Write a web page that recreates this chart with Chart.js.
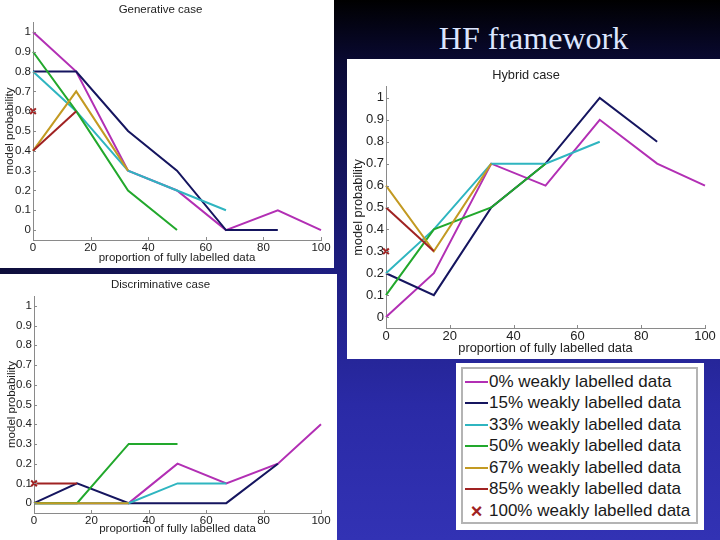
<!DOCTYPE html>
<html>
<head>
<meta charset="utf-8">
<title>HF framework</title>
<script src="https://cdn.jsdelivr.net/npm/chart.js@4.4.1/dist/chart.umd.min.js"></script>
<style>
    html, body { margin: 0; padding: 0; }
    body {
        width: 720px; height: 540px; position: relative; overflow: hidden;
        background:
            linear-gradient(90deg, rgba(0,0,0,0.55) 0%, rgba(0,0,0,0) 45%),
            linear-gradient(180deg, #000 0%, #0a0a35 12%, #1b1b78 45%, #2a2aa6 75%, #3232b4 100%);
    }
    .panel { position: absolute; background: #fff; }
    .panel canvas { display: block; }
    #slideTitle {
        position: absolute; left: 347px; width: 373px; top: 20px;
        text-align: center; line-height: 32px; color: #dce6ff;
        font: 32px "Liberation Serif", "Times New Roman", serif;
    }
    #legendBox { position: absolute; left: 456px; top: 363px; width: 248px; height: 167px; background: #fff; }
    #legendInner {
        position: absolute; left: 5px; top: 4px; width: 237px; height: 157px;
        border: 2px solid #b4b4b4; box-sizing: border-box; padding-top: 2px;
    }
    .row {
        display: flex; align-items: center; height: 21.5px; white-space: nowrap;
        font: 17px "Liberation Sans", Arial, sans-serif; color: #1a1a1a;
    }
    .sample { width: 23px; margin-left: 2px; margin-right: 1px; height: 0; border-top: 2.5px solid; }
    .marker { width: 23px; margin-left: 2px; margin-right: 1px; text-align: center; font-weight: bold; font-size: 20px; line-height: 20px; }
</style>
</head>
<body>
<div id="slideTitle">HF framework</div>
<div class="panel" style="left:0;top:0;"><canvas id="generativeChart" width="334" height="268"></canvas></div>
<div class="panel" style="left:0;top:274px;"><canvas id="discriminativeChart" width="337" height="266"></canvas></div>
<div class="panel" style="left:347px;top:59px;"><canvas id="hybridChart" width="373" height="300"></canvas></div>
<div id="legendBox"><div id="legendInner"></div></div>

<script>
// proportion of fully labelled data (%)
var xValues = [0, 15, 33, 50, 67, 85, 100];
var xTicks = [0, 20, 40, 60, 80, 100];
var yTicks = [0, 0.1, 0.2, 0.3, 0.4, 0.5, 0.6, 0.7, 0.8, 0.9, 1];
var yTickLabels = ['0', '0.1', '0.2', '0.3', '0.4', '0.5', '0.6', '0.7', '0.8', '0.9', '1'];

var seriesLabels = [
    '0% weakly labelled data',
    '15% weakly labelled data',
    '33% weakly labelled data',
    '50% weakly labelled data',
    '67% weakly labelled data',
    '85% weakly labelled data',
    '100% weakly labelled data'
];

// model probability, one row per series; rows stop where the series stops
var generativeValues = [
    [1, 0.8, 0.3, 0.2, 0, 0.1, 0],
    [0.8, 0.8, 0.5, 0.3, 0, 0],
    [0.8, 0.6, 0.3, 0.2, 0.1],
    [0.9, 0.6, 0.2, 0],
    [0.4, 0.7, 0.3],
    [0.4, 0.6],
    [0.6]
];
var discriminativeValues = [
    [0, 0, 0, 0.2, 0.1, 0.2, 0.4],
    [0, 0.1, 0, 0, 0, 0.2],
    [0, 0, 0, 0.1, 0.1],
    [0, 0, 0.3, 0.3],
    [0, 0, 0],
    [0.1, 0.1],
    [0.1]
];
var hybridValues = [
    [0, 0.2, 0.7, 0.6, 0.9, 0.7, 0.6],
    [0.2, 0.1, 0.5, 0.7, 1, 0.8],
    [0.2, 0.4, 0.7, 0.7, 0.8],
    [0.1, 0.4, 0.5, 0.7],
    [0.6, 0.3, 0.7],
    [0.5, 0.3],
    [0.3]
];

var seriesColors = ['#b22fb4', '#15155f', '#2fb5c0', '#22a82c', '#c39a22', '#a02222', '#a02222'];
var axisColor = '#8a8a8a';
var textColor = '#222222';
var fontFamily = '"Liberation Sans", Arial, sans-serif';

Chart.defaults.font.family = fontFamily;

// MATLAB-style ticks pointing into the plot
var innerTicks = {
    id: 'innerTicks',
    afterDraw: function (chart) {
        var ctx = chart.ctx;
        var area = chart.chartArea;
        var xs = chart.scales.x;
        var ys = chart.scales.y;
        ctx.save();
        ctx.strokeStyle = axisColor;
        ctx.lineWidth = 1;
        xs.ticks.forEach(function (t) {
            var px = Math.round(xs.getPixelForValue(t.value)) + 0.5;
            ctx.beginPath();
            ctx.moveTo(px, area.bottom);
            ctx.lineTo(px, area.bottom - 3);
            ctx.stroke();
        });
        ys.ticks.forEach(function (t) {
            var py = Math.round(ys.getPixelForValue(t.value)) + 0.5;
            ctx.beginPath();
            ctx.moveTo(area.left, py);
            ctx.lineTo(area.left + 3, py);
            ctx.stroke();
        });
        ctx.restore();
    }
};

function buildDatasets(rows) {
    return rows.map(function (row, i) {
        var isMarker = i === rows.length - 1;
        return {
            label: seriesLabels[i],
            data: row.map(function (v, j) { return { x: xValues[j], y: v }; }),
            borderColor: seriesColors[i],
            backgroundColor: seriesColors[i],
            borderWidth: 2,
            showLine: !isMarker,
            pointRadius: isMarker ? 4 : 0,
            pointStyle: isMarker ? 'crossRot' : 'circle',
            order: -i,
            clip: false
        };
    });
}

function makeChart(canvasId, title, rows, g) {
    var font = { family: fontFamily, size: g.font, weight: 'normal' };
    var tickFont = { family: fontFamily, size: g.tickFont };
    return new Chart(document.getElementById(canvasId), {
        type: 'scatter',
        data: { datasets: buildDatasets(rows) },
        options: {
            responsive: false,
            animation: false,
            layout: { padding: { left: 0, right: g.padRight, top: 0, bottom: 0 } },
            plugins: {
                legend: { display: false },
                tooltip: { enabled: false },
                title: {
                    display: true,
                    text: title,
                    color: textColor,
                    font: font,
                    padding: { top: g.titleTop, bottom: g.titleBottom }
                }
            },
            scales: {
                x: {
                    type: 'linear',
                    min: 0,
                    max: 100,
                    grid: { display: false, drawTicks: false },
                    border: { display: true, color: axisColor, width: 1 },
                    afterBuildTicks: function (scale) {
                        scale.ticks = xTicks.map(function (v) { return { value: v }; });
                    },
                    afterFit: function (scale) { scale.height = g.bottom; },
                    ticks: {
                        color: textColor,
                        font: tickFont,
                        padding: 1,
                        autoSkip: false,
                        maxRotation: 0,
                        callback: function (value) { return String(value); }
                    },
                    title: {
                        display: true,
                        text: 'proportion of fully labelled data',
                        color: textColor,
                        font: font,
                        padding: { top: 0, bottom: g.xTitlePad }
                    }
                },
                y: {
                    type: 'linear',
                    min: -0.05,
                    max: 1.05,
                    grid: { display: false, drawTicks: false },
                    border: { display: true, color: axisColor, width: 1 },
                    afterBuildTicks: function (scale) {
                        scale.ticks = yTicks.map(function (v) { return { value: v }; });
                    },
                    afterFit: function (scale) { scale.width = g.left; },
                    ticks: {
                        color: textColor,
                        font: tickFont,
                        padding: 2,
                        autoSkip: false,
                        callback: function (value) { return yTickLabels[yTicks.indexOf(value)]; }
                    },
                    title: {
                        display: true,
                        text: 'model probability',
                        color: textColor,
                        font: font,
                        padding: { top: g.yTitlePad, bottom: 0 }
                    }
                }
            }
        },
        plugins: [innerTicks]
    });
}

makeChart('generativeChart', 'Generative case', generativeValues, {
    font: 11.5, tickFont: 11.5, left: 33, padRight: 13, bottom: 28,
    titleTop: 3, titleBottom: 5.2, xTitlePad: 3.5, yTitlePad: 3
});
makeChart('discriminativeChart', 'Discriminative case', discriminativeValues, {
    font: 11.5, tickFont: 11.5, left: 34, padRight: 16, bottom: 27,
    titleTop: 4, titleBottom: 4.2, xTitlePad: 3.8, yTitlePad: 5
});
makeChart('hybridChart', 'Hybrid case', hybridValues, {
    font: 12.8, tickFont: 13, left: 39, padRight: 15, bottom: 31,
    titleTop: 8.3, titleBottom: 4.3, xTitlePad: 3.3, yTitlePad: 3.3
});

// legend box, same series names and colours as the charts
var legendInner = document.getElementById('legendInner');
seriesLabels.forEach(function (label, i) {
    var row = document.createElement('div');
    row.className = 'row';
    var sample = document.createElement('span');
    if (i === seriesLabels.length - 1) {
        sample.className = 'marker';
        sample.textContent = '\u00d7';
        sample.style.color = seriesColors[i];
    } else {
        sample.className = 'sample';
        sample.style.borderTopColor = seriesColors[i];
    }
    var text = document.createElement('span');
    text.textContent = label;
    row.appendChild(sample);
    row.appendChild(text);
    legendInner.appendChild(row);
});
</script>
</body>
</html>
